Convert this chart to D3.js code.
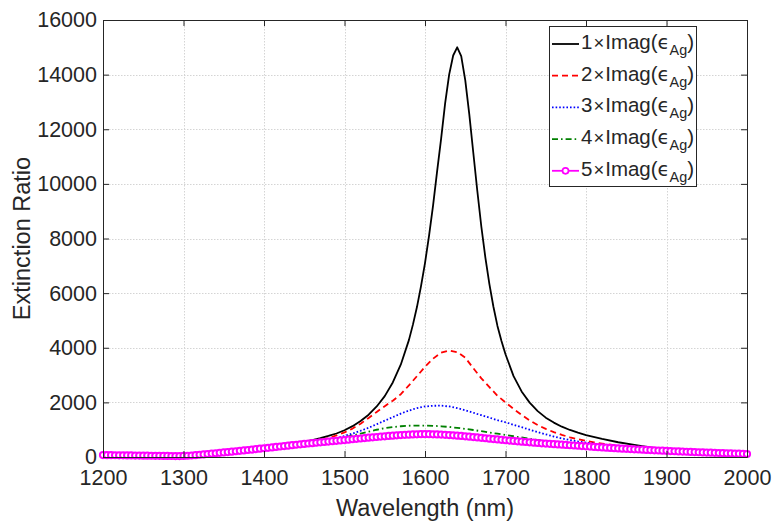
<!DOCTYPE html>
<html>
<head>
<meta charset="utf-8">
<script src="https://cdn.jsdelivr.net/npm/d3@7"></script>
<style>
  html, body { margin: 0; padding: 0; background: #fff; }
  svg { display: block; }
  text { font-family: "Liberation Sans", Arial, Helvetica, sans-serif; fill: #262626; }
</style>
</head>
<body>
<svg id="chart" width="773" height="524"></svg>
<script>
// ---------------- data ----------------
const xTicks = [1200, 1300, 1400, 1500, 1600, 1700, 1800, 1900, 2000];
const yTicks = [0, 2000, 4000, 6000, 8000, 10000, 12000, 14000, 16000];
const xLabel = "Wavelength (nm)";
const yLabel = "Extinction Ratio";
const seriesFactors = ["1", "2", "3", "4", "5"];

// black (1 x Imag) : own wavelength grid
const blackWl = [
  1200,1220,1240,1260,1280,1300,1320,1340,1360,1380,
  1400,1420,1440,1450,1460,1470,1480,1490,1500,1510,
  1520,1530,1540,1550,1560,1570,1580,1585,1590,1595,
  1600,1605,1610,1615,1620,1625,1630,1635,1640,1645,
  1650,1655,1660,1665,1670,1675,1680,1685,1690,1695,
  1700,1710,1720,1730,1740,1750,1760,1770,1780,1790,
  1800,1820,1840,1860,1880,1900,1920,1940,1960,1980,
  2000];
const blackVal = [
  70,62,54,46,38,38,82,138,196,257,
  325,392,490,560,620,690,770,860,980,1130,
  1320,1550,1850,2230,2730,3390,4280,4846,5490,6250,
  7100,8100,9200,10450,11650,12950,14000,14700,15000,14680,
  13800,12550,11140,9740,8430,7300,6330,5500,4800,4250,
  3760,2960,2400,1990,1680,1440,1260,1110,990,890,
  800,660,540,440,350,280,228,195,168,142,
  118];

// 10 nm grid, 1200..2000
const wl10 = d3.range(1200, 2001, 10);
const redVal = [
  70,66,62,58,54,50,46,42,38,35,
  38,55,82,110,138,166,196,226,257,289,
  322,356,392,430,472,518,568,625,695,790,
  900,1040,1220,1430,1650,1860,2060,2300,2620,2960,
  3300,3600,3820,3900,3840,3640,3250,2880,2560,2240,
  2000,1760,1540,1340,1170,1030,910,810,720,650,
  590,535,490,450,415,385,355,330,305,280,
  258,236,215,196,180,166,153,141,130,120,
  110];
const blueVal = [
  70,66,62,58,54,50,46,42,38,35,
  38,55,82,110,138,166,196,226,257,289,
  322,355,388,422,458,495,535,578,628,690,
  770,860,960,1070,1200,1330,1460,1590,1700,1790,
  1850,1875,1880,1850,1790,1710,1620,1530,1440,1350,
  1270,1180,1090,1000,910,830,750,680,620,570,
  530,490,450,410,375,345,315,290,265,245,
  228,212,198,185,173,162,151,141,131,121,
  110];
const greenVal = [
  70,66,62,58,54,50,46,42,38,35,
  38,55,82,110,138,166,196,226,257,289,
  321,354,386,418,452,487,523,562,608,662,
  722,788,858,930,998,1055,1097,1126,1144,1152,
  1152,1143,1125,1100,1067,1030,988,944,898,852,
  806,760,714,668,624,582,543,506,472,441,
  413,386,360,337,316,298,282,267,252,238,
  225,211,198,186,174,163,152,141,131,121,
  110];

// 5 nm grid, 1200..2000 (marker series)
const wl5 = d3.range(1200, 2001, 5);
const magentaVal = [
  70,68,66,64,62,60,58,56,54,52,50,48,46,44,42,40,38,36,35,35,
  38,45,55,68,82,96,110,124,138,152,166,181,196,211,226,241,257,273,289,305,
  320,336,352,368,384,400,416,432,448,464,480,494,508,522,536,550,564,578,592,606,
  620,635,650,664,678,692,706,720,733,746,758,770,781,792,802,811,819,826,831,834,
  835,834,831,826,820,812,803,793,782,770,758,745,731,717,702,687,672,657,642,628,
  614,600,587,574,561,549,537,525,513,502,491,481,471,461,451,441,431,421,412,401,
  390,380,370,360,350,341,332,323,315,306,298,290,282,274,267,259,252,245,238,231,
  225,218,211,204,198,192,186,180,174,168,163,157,152,146,141,136,131,126,121,115,
  110];

// ---------------- layout ----------------
const W = 773, H = 524;
const plot = { left: 103, right: 747, top: 20, bottom: 457 };
const axisColor = "#262626";
const tickFont = 21.5;
const labelFont = 23.5;
const legendFont = 20.5;

const svg = d3.select("#chart");
const x = d3.scaleLinear().domain([1200, 2000]).range([plot.left, plot.right]);
const y = d3.scaleLinear().domain([0, 16000]).range([plot.bottom, plot.top]);

// background
svg.append("rect").attr("x", 0).attr("y", 0).attr("width", W).attr("height", H).attr("fill", "#fff");

// grid
const grid = svg.append("g").attr("class", "grid")
  .attr("stroke", "#d4d4d4").attr("stroke-width", 1).attr("stroke-dasharray", "1.5,1.5");
grid.selectAll("line.gx").data(xTicks.slice(1, -1)).enter().append("line")
  .attr("x1", d => Math.round(x(d)) + 0.5).attr("x2", d => Math.round(x(d)) + 0.5)
  .attr("y1", plot.top).attr("y2", plot.bottom);
grid.selectAll("line.gy").data(yTicks.slice(1, -1)).enter().append("line")
  .attr("y1", d => Math.round(y(d)) + 0.5).attr("y2", d => Math.round(y(d)) + 0.5)
  .attr("x1", plot.left).attr("x2", plot.right);

// clip (markers may spill slightly past the box, as in the reference)
svg.append("defs").append("clipPath").attr("id", "clip")
  .append("rect").attr("x", plot.left - 5).attr("y", plot.top - 2)
  .attr("width", plot.right - plot.left + 10).attr("height", plot.bottom - plot.top + 6);

const lineGen = d3.line().x(d => x(d[0])).y(d => y(d[1]));
const zipper = (xs, ys) => xs.map((v, i) => [v, ys[i]]);

const series = [
  { data: zipper(blackWl, blackVal), color: "#000000", dash: null },
  { data: zipper(wl10, redVal), color: "#ff0000", dash: "6,4" },
  { data: zipper(wl10, blueVal), color: "#0000ff", dash: "1.6,2" },
  { data: zipper(wl10, greenVal), color: "#008000", dash: "6,3,1.6,3" },
  { data: zipper(wl5, magentaVal), color: "#ff00ff", dash: null, marker: true }
];

const gData = svg.append("g").attr("clip-path", "url(#clip)");
series.forEach(s => {
  gData.append("path").datum(s.data)
    .attr("d", lineGen)
    .attr("fill", "none")
    .attr("stroke", s.color)
    .attr("stroke-width", 1.8)
    .attr("stroke-linejoin", "round")
    .attr("stroke-dasharray", s.dash);
  if (s.marker) {
    gData.append("g").selectAll("circle").data(s.data).enter().append("circle")
      .attr("cx", d => x(d[0])).attr("cy", d => y(d[1])).attr("r", 3.1)
      .attr("fill", "#fff").attr("stroke", s.color).attr("stroke-width", 2);
  }
});

// axes
function styleAxis(g) {
  g.selectAll("path.domain").attr("stroke", axisColor).attr("stroke-width", 1);
  g.selectAll(".tick line").attr("stroke", axisColor).attr("stroke-width", 1);
  g.selectAll(".tick text").attr("fill", axisColor)
    .style("font-family", '"Liberation Sans", Arial, sans-serif')
    .style("font-size", tickFont + "px");
}
const fmt = d3.format("d");
svg.append("g").attr("transform", `translate(0,${plot.bottom})`)
  .call(d3.axisBottom(x).tickValues(xTicks).tickFormat(fmt).tickSizeInner(-6).tickSizeOuter(0).tickPadding(12.5))
  .call(styleAxis);
svg.append("g").attr("transform", `translate(0,${plot.top})`)
  .call(d3.axisTop(x).tickValues(xTicks).tickFormat("").tickSizeInner(-6).tickSizeOuter(0))
  .call(styleAxis);
svg.append("g").attr("transform", `translate(${plot.left},0)`)
  .call(d3.axisLeft(y).tickValues(yTicks).tickFormat(fmt).tickSizeInner(-6).tickSizeOuter(0).tickPadding(6))
  .call(styleAxis);
svg.append("g").attr("transform", `translate(${plot.right},0)`)
  .call(d3.axisRight(y).tickValues(yTicks).tickFormat("").tickSizeInner(-6).tickSizeOuter(0))
  .call(styleAxis);

// axis labels
svg.append("text").attr("x", (plot.left + plot.right) / 2).attr("y", 516)
  .attr("text-anchor", "middle").style("font-size", labelFont + "px").text(xLabel);
svg.append("text").attr("transform", `translate(30,${(plot.top + plot.bottom) / 2}) rotate(-90)`)
  .attr("text-anchor", "middle").style("font-size", labelFont + "px").text(yLabel);

// legend
const leg = { x: 549.5, y: 26.5, w: 147, h: 160 };
const lg = svg.append("g");
lg.append("rect").attr("x", leg.x).attr("y", leg.y).attr("width", leg.w).attr("height", leg.h)
  .attr("fill", "#fff").attr("stroke", axisColor).attr("stroke-width", 1);
series.forEach((s, i) => {
  const cy = 44 + i * 31.7;
  lg.append("line").attr("x1", 552).attr("x2", 579).attr("y1", cy).attr("y2", cy)
    .attr("stroke", s.color).attr("stroke-width", 1.8).attr("stroke-dasharray", s.dash);
  if (s.marker) {
    lg.append("circle").attr("cx", 565.5).attr("cy", cy).attr("r", 3)
      .attr("fill", "#fff").attr("stroke", s.color).attr("stroke-width", 1.7);
  }
  const t = lg.append("text").attr("x", 581).attr("y", cy + 5).style("font-size", legendFont + "px");
  t.append("tspan").text(seriesFactors[i]);
  t.append("tspan").attr("dx", 1).style("font-size", (legendFont * 0.9) + "px").text("\u00D7");
  t.append("tspan").attr("dx", 1).text("Imag(");
  t.append("tspan").style("font-family", '"DejaVu Sans", sans-serif').style("font-size", (legendFont * 0.95) + "px").text("\u03F5");
  t.append("tspan").attr("dy", 6).style("font-size", (legendFont * 0.7) + "px").text("Ag");
  t.append("tspan").attr("dy", -6).text(")");
});
</script>
</body>
</html>
